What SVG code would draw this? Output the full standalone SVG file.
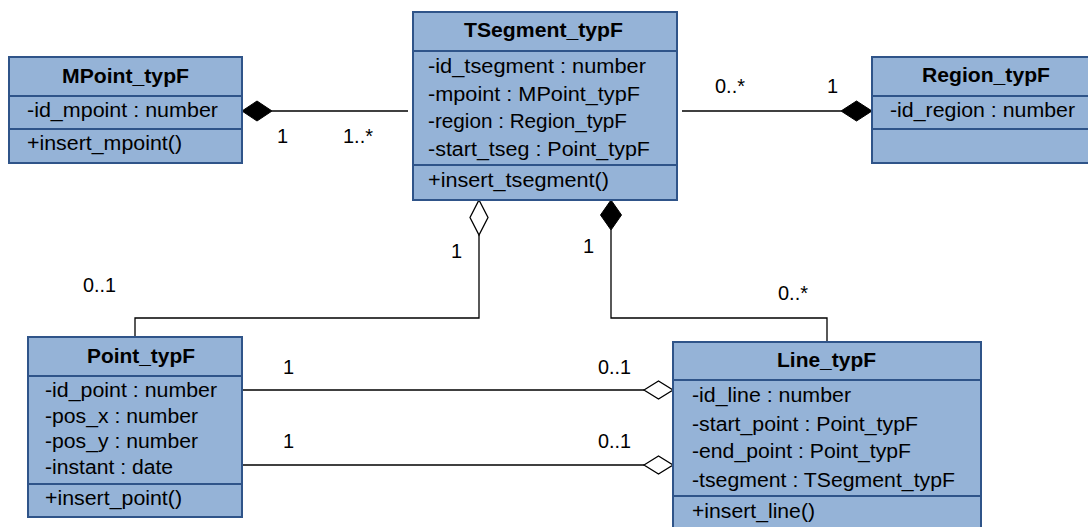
<svg xmlns="http://www.w3.org/2000/svg" width="1088" height="527" viewBox="0 0 1088 527">
<style>
.box{fill:#95B3D7;stroke:#2F5489;stroke-width:2}
.div{stroke:#2F5489;stroke-width:2}
text{font-family:"Liberation Sans",Arial,sans-serif;font-size:20px;fill:#000}
.h{font-weight:bold}
.c{fill:none;stroke:#000;stroke-width:1.3}
.fd{fill:#000;stroke:#000;stroke-width:1}
.od{fill:#fff;stroke:#000;stroke-width:1.3}
</style>
<rect width="1088" height="527" fill="#fff"/>
<g id="connectors">
  <line class="c" x1="272" y1="111" x2="408" y2="111"/>
  <polygon class="fd" points="242,111 257,101 272,111 257,121"/>
  <line class="c" x1="682" y1="111" x2="841" y2="111"/>
  <polygon class="fd" points="841,111 856.5,101 872,111 856.5,121"/>
  <polyline class="c" points="479,235 479,318 135,318 135,337"/>
  <polygon class="od" points="479,200 488,217.5 479,235 470,217.5"/>
  <polyline class="c" points="611,230 611,318 827,318 827,342"/>
  <polygon class="fd" points="611,200 621.5,215 611,230 600.5,215"/>
  <line class="c" x1="242" y1="390" x2="644" y2="390"/>
  <polygon class="od" points="644,390 658.5,381 673,390 658.5,399"/>
  <line class="c" x1="242" y1="465" x2="644" y2="465"/>
  <polygon class="od" points="644,465 658.5,456 673,465 658.5,474"/>
  <text x="277" y="143">1</text>
  <text x="343" y="143" textLength="30" lengthAdjust="spacingAndGlyphs">1..*</text>
  <text x="715" y="93" textLength="30" lengthAdjust="spacingAndGlyphs">0..*</text>
  <text x="827" y="93">1</text>
  <text x="451" y="258">1</text>
  <text x="83" y="292" textLength="33" lengthAdjust="spacingAndGlyphs">0..1</text>
  <text x="583" y="253">1</text>
  <text x="778" y="300" textLength="30" lengthAdjust="spacingAndGlyphs">0..*</text>
  <text x="283" y="374">1</text>
  <text x="598" y="374" textLength="33" lengthAdjust="spacingAndGlyphs">0..1</text>
  <text x="283" y="448">1</text>
  <text x="598" y="448" textLength="33" lengthAdjust="spacingAndGlyphs">0..1</text>
</g>
<g id="MPoint_typF">
  <rect class="box" x="9" y="57" width="233" height="106"/>
  <line class="div" x1="9" y1="96" x2="242" y2="96"/>
  <line class="div" x1="9" y1="129" x2="242" y2="129"/>
  <text class="h" x="62" y="83" textLength="127" lengthAdjust="spacingAndGlyphs">MPoint_typF</text>
  <text x="27" y="117" textLength="191" lengthAdjust="spacingAndGlyphs">-id_mpoint : number</text>
  <text x="27" y="150" textLength="155" lengthAdjust="spacingAndGlyphs">+insert_mpoint()</text>
</g>
<g id="TSegment_typF">
  <rect class="box" x="413" y="12" width="264" height="188"/>
  <line class="div" x1="413" y1="51" x2="677" y2="51"/>
  <line class="div" x1="413" y1="165" x2="677" y2="165"/>
  <text class="h" x="464" y="37" textLength="159" lengthAdjust="spacingAndGlyphs">TSegment_typF</text>
  <text x="428" y="73" textLength="218" lengthAdjust="spacingAndGlyphs">-id_tsegment : number</text>
  <text x="428" y="100.5" textLength="212" lengthAdjust="spacingAndGlyphs">-mpoint : MPoint_typF</text>
  <text x="428" y="128" textLength="199" lengthAdjust="spacingAndGlyphs">-region : Region_typF</text>
  <text x="428" y="156" textLength="222" lengthAdjust="spacingAndGlyphs">-start_tseg : Point_typF</text>
  <text x="428" y="187" textLength="181" lengthAdjust="spacingAndGlyphs">+insert_tsegment()</text>
</g>
<g id="Region_typF">
  <rect class="box" x="872" y="57" width="223" height="106"/>
  <line class="div" x1="872" y1="96" x2="1095" y2="96"/>
  <line class="div" x1="872" y1="129" x2="1095" y2="129"/>
  <text class="h" x="922" y="82" textLength="128" lengthAdjust="spacingAndGlyphs">Region_typF</text>
  <text x="890" y="117" textLength="185" lengthAdjust="spacingAndGlyphs">-id_region : number</text>
</g>
<g id="Point_typF">
  <rect class="box" x="28" y="337" width="214" height="180"/>
  <line class="div" x1="28" y1="376" x2="242" y2="376"/>
  <line class="div" x1="28" y1="484" x2="242" y2="484"/>
  <text class="h" x="87" y="363" textLength="108" lengthAdjust="spacingAndGlyphs">Point_typF</text>
  <text x="45" y="397" textLength="172" lengthAdjust="spacingAndGlyphs">-id_point : number</text>
  <text x="45" y="423" textLength="153" lengthAdjust="spacingAndGlyphs">-pos_x : number</text>
  <text x="45" y="448" textLength="153" lengthAdjust="spacingAndGlyphs">-pos_y : number</text>
  <text x="45" y="474" textLength="128" lengthAdjust="spacingAndGlyphs">-instant : date</text>
  <text x="45" y="505" textLength="137" lengthAdjust="spacingAndGlyphs">+insert_point()</text>
</g>
<g id="Line_typF">
  <rect class="box" x="673" y="342" width="308" height="192"/>
  <line class="div" x1="673" y1="380" x2="981" y2="380"/>
  <line class="div" x1="673" y1="496" x2="981" y2="496"/>
  <text class="h" x="777" y="367" textLength="99" lengthAdjust="spacingAndGlyphs">Line_typF</text>
  <text x="692" y="402" textLength="159" lengthAdjust="spacingAndGlyphs">-id_line : number</text>
  <text x="692" y="431" textLength="226" lengthAdjust="spacingAndGlyphs">-start_point : Point_typF</text>
  <text x="692" y="458" textLength="219" lengthAdjust="spacingAndGlyphs">-end_point : Point_typF</text>
  <text x="692" y="487" textLength="263" lengthAdjust="spacingAndGlyphs">-tsegment : TSegment_typF</text>
  <text x="692" y="518" textLength="123" lengthAdjust="spacingAndGlyphs">+insert_line()</text>
</g>
</svg>
